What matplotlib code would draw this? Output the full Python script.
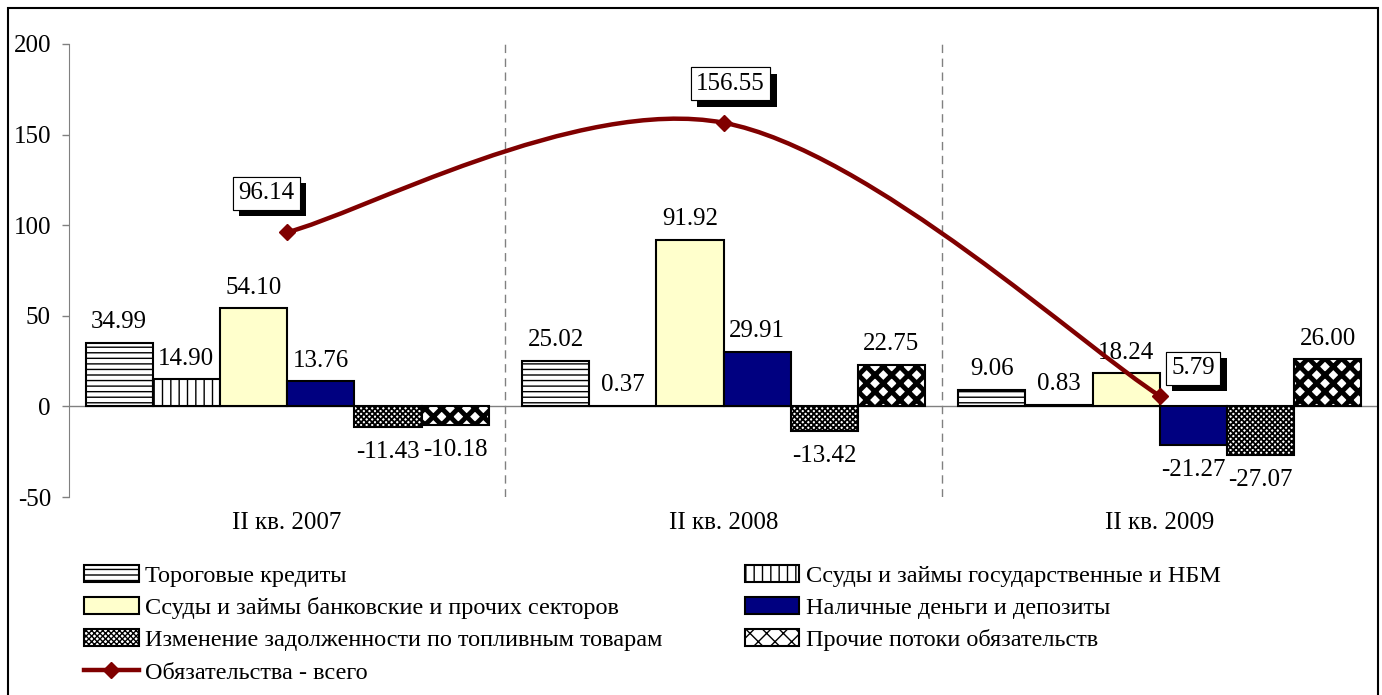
import numpy as np
import matplotlib
matplotlib.use('Agg')
import matplotlib.pyplot as plt
import matplotlib.patheffects as pe
from matplotlib.lines import Line2D
from matplotlib.patches import Rectangle
from matplotlib.path import Path
from matplotlib.patches import PathPatch

plt.rcParams['font.family'] = ['Liberation Serif', 'DejaVu Serif']
plt.rcParams['font.size'] = 18
plt.rcParams['hatch.linewidth'] = 1.0
plt.rcParams['axes.unicode_minus'] = False

periods = ['II кв. 2007', 'II кв. 2008', 'II кв. 2009']

trade = [34.99, 25.02, 9.06]
gov = [14.90, 0.37, 0.83]
bank = [54.10, 91.92, 18.24]
cash = [13.76, 29.91, -21.27]
fuel = [-11.43, -13.42, -27.07]
other = [-10.18, 22.75, 26.00]
total = [96.14, 156.55, 5.79]

names = ['Тороговые кредиты',
         'Ссуды и займы государственные и НБМ',
         'Ссуды и займы банковские и прочих секторов',
         'Наличные деньги и депозиты',
         'Изменение задолженности по топливным товарам',
         'Прочие потоки обязательств']
total_name = 'Обязательства - всего'

series = [trade, gov, bank, cash, fuel, other]
faces = ['white', 'white', '#FFFFCC', '#000080', 'white', 'white']
hatches = ['---', '||', None, None, 'xxxxxx', 'xx']
hatch_lw = [1.0, 1.0, 1.0, 1.0, 1.3, 3.5]

fig = plt.figure(figsize=(13.82, 6.95), dpi=100)
ax = fig.add_axes([69 / 1382, 1 - 497 / 695, (1378 - 69) / 1382, (497 - 44) / 695])

x = np.arange(len(periods))
w = 0.154
bar_handles = []
for i, vals in enumerate(series):
    bars = ax.bar(x + (i - 2.5) * w, vals, w, color=faces[i], edgecolor='black',
                  linewidth=1.5, hatch=hatches[i], zorder=3, label=names[i])
    for b in bars:
        if hasattr(b, 'set_hatch_linewidth'):
            b.set_hatch_linewidth(hatch_lw[i])
    bar_handles.append(bars)
    for xi, v in zip(x + (i - 2.5) * w, vals):
        if v >= 0:
            ax.annotate(f'{v:.2f}', (xi, v), xytext=(0, 7), textcoords='offset points',
                        ha='center', va='bottom')
        else:
            ax.annotate(f'{v:.2f}', (xi, v), xytext=(0, -10), textcoords='offset points',
                        ha='center', va='top')

# сглаженная линия (Безье, как в Excel)
pts = np.column_stack([x, total]).astype(float)
verts = [pts[0]]
codes = [Path.MOVETO]
n = len(pts)
for k in range(n - 1):
    p_prev = pts[k - 1] if k > 0 else pts[k]
    p_next2 = pts[k + 2] if k + 2 < n else pts[k + 1]
    c1 = pts[k] + (pts[k + 1] - p_prev) / 6
    c2 = pts[k + 1] - (p_next2 - pts[k]) / 6
    verts += [c1, c2, pts[k + 1]]
    codes += [Path.CURVE4] * 3
ax.add_patch(PathPatch(Path(verts, codes), fill=False, edgecolor='#800000',
                       linewidth=3.2, zorder=4, capstyle='round'))
ax.plot(x, total, linestyle='none', marker='D', markersize=8, color='#800000', zorder=5)

offsets = [(-15, 28), (5, 28), (24, 20)]
for xi, v, off in zip(x, total, offsets):
    t = ax.annotate(f'{v:.2f}', (xi, v), xytext=off, textcoords='offset points',
                    ha='center', va='center', zorder=6,
                    bbox=dict(boxstyle='square,pad=0.22', fc='white', ec='black', lw=0.8))
    t.get_bbox_patch().set_path_effects([
        pe.withSimplePatchShadow(offset=(4.5, -4.5), shadow_rgbFace='black', alpha=1.0),
        pe.Normal()])

ax.axhline(0, color='#808080', linewidth=1, zorder=2)
for sep in [0.5, 1.5]:
    ax.axvline(sep, color='#808080', linewidth=1, linestyle=(0, (6, 4)), zorder=1)

ax.set_xlim(-0.5, 2.5)
ax.set_ylim(-50, 200)
ax.set_yticks([-50, 0, 50, 100, 150, 200])
ax.set_xticks(x)
ax.set_xticklabels(periods)
ax.tick_params(axis='x', length=0, pad=11)
ax.tick_params(axis='y', length=5, width=1, color='#808080', pad=8)
for s in ['top', 'right', 'bottom']:
    ax.spines[s].set_visible(False)
ax.spines['left'].set_color('#808080')

line_handle = Line2D([], [], color='#800000', linewidth=3.2, marker='D', markersize=8)
handles = [bar_handles[0], bar_handles[2], bar_handles[4], line_handle,
           bar_handles[1], bar_handles[3], bar_handles[5]]
labels = [names[0], names[2], names[4], total_name, names[1], names[3], names[5]]
fig.legend(handles, labels, ncol=2, loc='upper left',
           bbox_to_anchor=(84 / 1382, 1 - 565 / 695), frameon=False,
           borderpad=0, borderaxespad=0, handlelength=2.25, handletextpad=0.25,
           labelspacing=0.42, columnspacing=3.4, fontsize=17.5)

fig.patches.append(Rectangle((8 / 1382, -0.02), (1378 - 8) / 1382, (695 - 8) / 695 + 0.02,
                             transform=fig.transFigure, fill=False, edgecolor='black',
                             linewidth=1.5))

fig.savefig('out.png', dpi=100)
